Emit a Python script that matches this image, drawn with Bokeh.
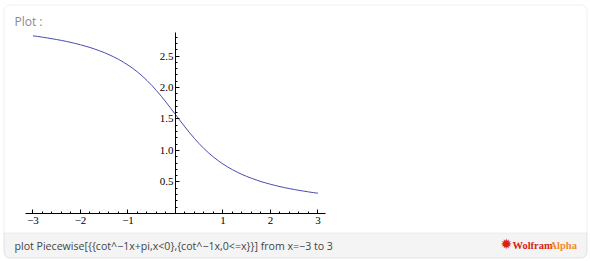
from bokeh.plotting import figure
from bokeh.models import Range1d, FixedTicker, LinearAxis, BoxAnnotation, Label
from bokeh.embed import file_html
from bokeh.resources import INLINE

# values
x_vals = [-3.0, -2.9, -2.8, -2.7, -2.6, -2.5, -2.4, -2.3, -2.2, -2.1,
          -2.0, -1.9, -1.8, -1.7, -1.6, -1.5, -1.4, -1.3, -1.2, -1.1,
          -1.0, -0.9, -0.8, -0.7, -0.6, -0.5, -0.4, -0.3, -0.2, -0.1,
          0.0, 0.1, 0.2, 0.3, 0.4, 0.5, 0.6, 0.7, 0.8, 0.9,
          1.0, 1.1, 1.2, 1.3, 1.4, 1.5, 1.6, 1.7, 1.8, 1.9,
          2.0, 2.1, 2.2, 2.3, 2.4, 2.5, 2.6, 2.7, 2.8, 2.9, 3.0]
y_vals = [2.820, 2.810, 2.799, 2.787, 2.774, 2.761, 2.747, 2.732, 2.715, 2.697,
          2.678, 2.657, 2.635, 2.610, 2.583, 2.554, 2.521, 2.486, 2.447, 2.404,
          2.356, 2.304, 2.246, 2.182, 2.111, 2.034, 1.951, 1.862, 1.768, 1.670,
          1.571, 1.471, 1.373, 1.279, 1.190, 1.107, 1.030, 0.960, 0.896, 0.838,
          0.785, 0.738, 0.695, 0.656, 0.620, 0.588, 0.559, 0.532, 0.507, 0.485,
          0.464, 0.445, 0.427, 0.410, 0.395, 0.381, 0.367, 0.355, 0.343, 0.332, 0.322]

x_ticks = [-3, -2, -1, 0, 1, 2, 3]
x_tick_labels = ["\u22123", "\u22122", "\u22121", "", "1", "2", "3"]
y_ticks = [0.5, 1.0, 1.5, 2.0, 2.5]
y_tick_labels = ["0.5", "1.0", "1.5", "2.0", "2.5"]

W, H = 590, 261
p = figure(width=W, height=H, output_backend="svg", toolbar_location=None,
           x_range=Range1d(-3.684, 8.737), y_range=Range1d(-0.762, 3.381),
           min_border=0, x_axis_type=None, y_axis_type=None)
p.outline_line_color = None
p.background_fill_color = "white"
p.border_fill_color = "white"

# frame decorations
outer = BoxAnnotation(left=3.5, right=586.5, bottom=3.5, top=256.5,
                      left_units="screen", right_units="screen",
                      bottom_units="screen", top_units="screen",
                      fill_alpha=0, line_color="#d2d2d2", line_width=1,
                      border_radius=6)
footer = BoxAnnotation(left=3.5, right=586.5, bottom=3.5, top=28.5,
                       left_units="screen", right_units="screen",
                       bottom_units="screen", top_units="screen",
                       fill_color="#f4f4f4", fill_alpha=1, line_color="#d2d2d2",
                       line_width=1, border_radius=(0, 0, 6, 6))
p.add_layout(footer)
p.add_layout(outer)

# curve
p.line(x_vals, y_vals, line_color="#4b4bb0", line_width=1)

x_minor = [round(-3 + 0.2 * i, 1) for i in range(31)]
y_minor = [round(0.1 * i, 1) for i in range(1, 29)]

xaxis = LinearAxis(fixed_location=0, bounds=(-3.15, 3.15),
                   ticker=FixedTicker(ticks=x_ticks, minor_ticks=x_minor))
xaxis.major_label_overrides = {t: l for t, l in zip(x_ticks, x_tick_labels)}
yaxis = LinearAxis(fixed_location=0, bounds=(0, 2.87),
                   ticker=FixedTicker(ticks=y_ticks, minor_ticks=y_minor))
yaxis.major_label_overrides = {t: l for t, l in zip(y_ticks, y_tick_labels)}
for ax in (xaxis, yaxis):
    ax.axis_line_color = "black"
    ax.axis_line_width = 1
    ax.major_tick_in = 4
    ax.major_tick_out = 0
    ax.minor_tick_in = 2
    ax.minor_tick_out = 0
    ax.major_tick_line_color = "black"
    ax.minor_tick_line_color = "black"
    ax.major_label_text_font = "Liberation Serif"
    ax.major_label_text_font_size = "11px"
    ax.major_label_text_color = "black"
xaxis.major_label_standoff = 4
yaxis.major_label_standoff = 2
p.add_layout(xaxis, "below")
p.add_layout(yaxis, "left")

p.add_layout(Label(x=14, y=H - 29, x_units="screen", y_units="screen", text="Plot :",
                   text_font="Open Sans", text_font_size="12px", text_color="#8a8a8a"))
p.add_layout(Label(x=14, y=9, x_units="screen", y_units="screen",
                   text="plot Piecewise[{{cot^\u22121x+pi,x<0},{cot^\u22121x,0<=x}}] from x=\u22123 to 3",
                   text_font="Open Sans", text_font_size="10.6px", text_color="#444444"))
p.add_layout(Label(x=500, y=10, x_units="screen", y_units="screen", text="\u2739",
                   text_font="DejaVu Sans", text_font_size="14px", text_color="#d9230f"))
p.add_layout(Label(x=512, y=11, x_units="screen", y_units="screen", text="Wolfram",
                   text_font="Liberation Serif", text_font_size="10.5px",
                   text_font_style="bold", text_color="#d9230f"))
p.add_layout(Label(x=549, y=11, x_units="screen", y_units="screen", text="Alpha",
                   text_font="Liberation Serif", text_font_size="10.5px",
                   text_font_style="bold", text_color="#f58a1f"))

open("out.html", "w").write(file_html(p, INLINE))
